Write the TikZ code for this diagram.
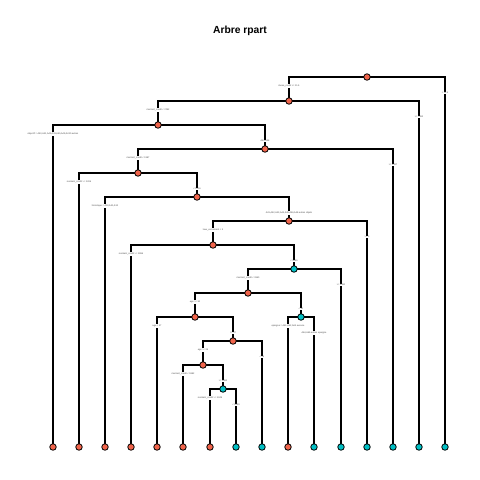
\documentclass[tikz,border=0pt]{standalone}
\usepackage{fontspec}
\setmainfont{Liberation Sans}
\definecolor{nodeO}{RGB}{240,100,75}
\definecolor{nodeC}{RGB}{0,191,196}
\pgfdeclarelayer{bg}
\pgfdeclarelayer{paper}
\pgfsetlayers{paper,bg,main}
\tikzset{
  treenode/.style={circle, draw=black, line width=0.8pt, minimum size=6.5pt, inner sep=0pt},
  nodeo/.style={treenode, fill=nodeO},
  nodec/.style={treenode, fill=nodeC},
  lbl/.style={fill=white, inner sep=0.5pt, font=\fontsize{2.3}{2.6}\selectfont, text=black!70},
  edge/.style={line width=1.3pt, black},
  titletext/.style={font=\fontsize{10.3}{12}\selectfont\bfseries}
}
\newcommand\splt[5]{%
  \begin{pgfonlayer}{bg}
    \draw[edge] (#2.center) |- (#1.center) -| (#3.center);
  \end{pgfonlayer}
  \path (#2|-#1) ++(0,9) node[lbl] {#4};
  \path (#3|-#1) ++(0,16) node[lbl] {#5};
}
\begin{document}
\begin{tikzpicture}[x=1pt,y=-1pt]
\useasboundingbox (0,0) rectangle (480,480);
\begin{pgfonlayer}{paper}
\fill[white] (0,0) rectangle (480,480);
\end{pgfonlayer}
\node[titletext] (title) at (240,31) {Arbre rpart};
% internal nodes
\node[nodeo] (n1) at (367,77) {};
\node[nodeo] (n2) at (289,101) {};
\node[nodeo] (n3) at (158,125) {};
\node[nodeo] (n4) at (265,149) {};
\node[nodeo] (n5) at (138,173) {};
\node[nodeo] (n6) at (197,197) {};
\node[nodeo] (n7) at (289,221) {};
\node[nodeo] (n8) at (213,245) {};
\node[nodec] (n9) at (294,269) {};
\node[nodeo] (n10) at (248,293) {};
\node[nodeo] (n11) at (195,317) {};
\node[nodec] (n12) at (301,317) {};
\node[nodeo] (n13) at (233,341) {};
\node[nodeo] (n14) at (203,365) {};
\node[nodec] (n15) at (223,389) {};
% leaves
\node[nodeo] (l1) at (53,447) {};
\node[nodeo] (l2) at (79,447) {};
\node[nodeo] (l3) at (105,447) {};
\node[nodeo] (l4) at (131,447) {};
\node[nodeo] (l5) at (157,447) {};
\node[nodeo] (l6) at (183,447) {};
\node[nodeo] (l7) at (210,447) {};
\node[nodec] (l8) at (236,447) {};
\node[nodec] (l9) at (262,447) {};
\node[nodeo] (l10) at (288,447) {};
\node[nodec] (l11) at (314,447) {};
\node[nodec] (l12) at (341,447) {};
\node[nodec] (l13) at (367,447) {};
\node[nodec] (l14) at (393,447) {};
\node[nodec] (l15) at (419,447) {};
\node[nodec] (l16) at (445,447) {};
% splits
\splt{n1}{n2}{l16}{duree\_credit >= 11.5}{< 11.5}
\splt{n2}{n3}{l15}{montant\_credit < 7492}{>= 7492}
\splt{n3}{l1}{n4}{objectif = A40,A41,A42,A43,A45,A49,A410 autres}{A44,A46}
\splt{n4}{n5}{l14}{montant\_credit < 1387}{>= 1387}
\splt{n5}{l2}{n6}{montant\_credit >= 1206}{< 1206}
\splt{n6}{l3}{n7}{historique = A30,A31,A32}{A41,A42,A43,A44,A45,A46,A48 autres objets}
\splt{n7}{n8}{l13}{taux\_versement < 3}{>= 3}
\splt{n8}{l4}{n9}{montant\_credit >= 3996}{< 3996}
\splt{n9}{n10}{l12}{montant\_credit < 3360}{>= 3360}
\splt{n10}{n11}{n12}{age >= 30}{< 30}
\splt{n11}{l5}{n13}{age < 37}{>= 37}
\splt{n13}{n14}{l9}{age >= 26}{< 26}
\splt{n14}{l6}{n15}{montant\_credit < 1882}{>= 1882}
\splt{n15}{l7}{l8}{montant\_credit >= 2249}{< 2249}
\splt{n12}{l10}{l11}{epargne = A61,A62,A63 aucune}{A64,A65 autres epargne}
\end{tikzpicture}
\end{document}
